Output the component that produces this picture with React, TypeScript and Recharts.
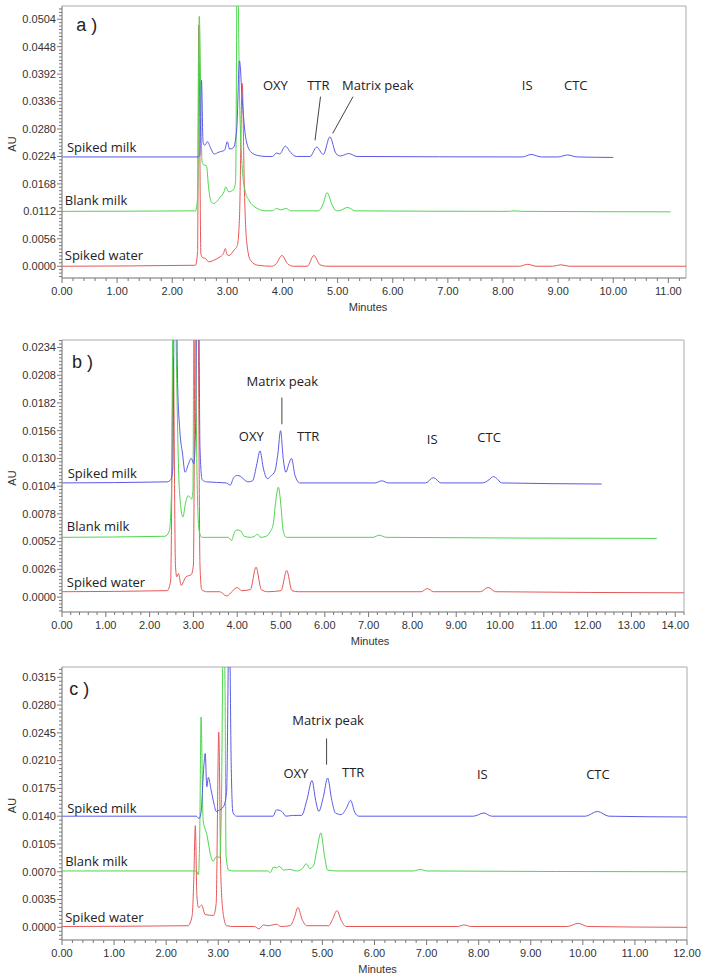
import { LineChart, Line, XAxis, YAxis, ReferenceArea, ReferenceLine, ReferenceDot } from "recharts";

type Pt = [number, number];
type Note = { text: string; t: number; v: number; anchor?: "start" | "middle"; big?: boolean };
type Leader = [number, number, number, number];

const BLUE = "#5a5ae8";
const GREEN = "#4ed64e";
const RED = "#e65858";
const TICK_FONT = "'Liberation Sans', Arial, sans-serif";
const NOTE_FONT = "'Open Sans', sans-serif";

// ---- panel a ----
const aYTicks = [0, 0.0056, 0.0112, 0.0168, 0.0224, 0.028, 0.0336, 0.0392, 0.0448, 0.0504];
const aXTicks = [0, 1, 2, 3, 4, 5, 6, 7, 8, 9, 10, 11];

const aSpikedMilk: Pt[] = [
  [0, 0.0223], [2.47, 0.0223], [2.5, 0.0226], [2.53, 0.038], [2.56, 0.0252], [2.59, 0.0247],
  [2.64, 0.0254], [2.7, 0.024], [2.76, 0.0229], [2.85, 0.0233], [2.95, 0.0237], [3.0, 0.0254],
  [3.04, 0.0239], [3.11, 0.0242], [3.17, 0.028], [3.22, 0.0419], [3.27, 0.0339], [3.33, 0.0264],
  [3.42, 0.0234], [3.55, 0.0226], [3.7, 0.0224], [3.82, 0.0224], [3.89, 0.0231], [3.95, 0.0229],
  [4.05, 0.0245], [4.15, 0.0232], [4.25, 0.0224], [4.5, 0.0224], [4.62, 0.0243], [4.74, 0.0228],
  [4.86, 0.0264], [4.97, 0.023], [5.05, 0.0225], [5.2, 0.023], [5.35, 0.0224], [8.35, 0.0223],
  [8.51, 0.0228], [8.7, 0.0223], [9.0, 0.0223], [9.17, 0.0227], [9.35, 0.0223], [10.0, 0.0222],
];
const aBlankMilk: Pt[] = [
  [0, 0.0112], [2.42, 0.0113], [2.46, 0.014], [2.49, 0.051], [2.54, 0.0215], [2.57, 0.0207],
  [2.62, 0.0205], [2.66, 0.016], [2.7, 0.0133], [2.75, 0.0128], [2.87, 0.0141], [2.94, 0.0152],
  [2.97, 0.0162], [3.02, 0.0152], [3.12, 0.0157], [3.15, 0.0175], [3.18, 0.065], [3.22, 0.035],
  [3.27, 0.02], [3.33, 0.015], [3.39, 0.0135], [3.54, 0.0118], [3.7, 0.0113], [3.82, 0.0113],
  [3.89, 0.0118], [3.97, 0.0115], [4.07, 0.0118], [4.15, 0.0113], [4.65, 0.0113], [4.73, 0.0125],
  [4.81, 0.015], [4.9, 0.0125], [4.98, 0.0113], [5.05, 0.0114], [5.18, 0.012], [5.32, 0.0113],
  [8.1, 0.0112], [8.2, 0.0113], [8.35, 0.0112], [11.04, 0.0111],
];
const aSpikedWater: Pt[] = [
  [0, 0], [2.42, 0.0002], [2.46, 0.003], [2.48, 0.0492], [2.52, 0.0025], [2.56, 0.0017],
  [2.6, 0.0016], [2.66, 0.0009], [2.75, 0.0012], [2.85, 0.0018], [2.93, 0.0026], [2.96, 0.0036],
  [3.0, 0.0023], [3.03, 0.0022], [3.12, 0.0033], [3.18, 0.0042], [3.22, 0.01], [3.27, 0.0373],
  [3.31, 0.015], [3.35, 0.005], [3.42, 0.0012], [3.55, 0.0002], [3.8, 0], [3.88, 0.0004],
  [3.99, 0.0022], [4.1, 0.0004], [4.2, 0], [4.45, 0], [4.57, 0.0022], [4.68, 0.0003], [4.8, 0],
  [8.3, 0], [8.45, 0.0004], [8.6, 0], [8.9, 0], [9.05, 0.0003], [9.2, 0], [11.32, 0],
];
const aNotes: Note[] = [
  { text: "a )", t: 0.45, v: 0.0492, anchor: "middle", big: true },
  { text: "Spiked milk", t: 0.09, v: 0.0243 },
  { text: "Blank milk", t: 0.05, v: 0.0135 },
  { text: "Spiked water", t: 0.05, v: 0.0021 },
  { text: "OXY", t: 3.87, v: 0.0369, anchor: "middle" },
  { text: "TTR", t: 4.65, v: 0.0369, anchor: "middle" },
  { text: "Matrix peak", t: 5.73, v: 0.0369, anchor: "middle" },
  { text: "IS", t: 8.44, v: 0.0369, anchor: "middle" },
  { text: "CTC", t: 9.32, v: 0.0369, anchor: "middle" },
];
const aLeaders: Leader[] = [
  [4.69, 0.0346, 4.59, 0.0257],
  [5.28, 0.0346, 4.91, 0.0271],
];

// ---- panel b ----
const bYTicks = [0, 0.0026, 0.0052, 0.0078, 0.0104, 0.013, 0.0156, 0.0182, 0.0208, 0.0234];
const bXTicks = [0, 1, 2, 3, 4, 5, 6, 7, 8, 9, 10, 11, 12, 13, 14];

const bSpikedMilk: Pt[] = [
  [0, 0.0107], [2.4, 0.0108], [2.48, 0.011], [2.53, 0.012], [2.58, 0.04], [2.64, 0.02],
  [2.69, 0.0156], [2.75, 0.0135], [2.81, 0.0117], [2.88, 0.0124], [2.95, 0.013], [3.01, 0.0125],
  [3.05, 0.016], [3.1, 0.045], [3.15, 0.014], [3.2, 0.011], [3.3, 0.0108], [3.75, 0.0107],
  [3.84, 0.0105], [3.92, 0.0112], [4.0, 0.0114], [4.08, 0.0113], [4.16, 0.011], [4.25, 0.0108],
  [4.35, 0.0109], [4.45, 0.0125], [4.52, 0.0137], [4.6, 0.012], [4.69, 0.0111], [4.78, 0.0114],
  [4.86, 0.0118], [4.93, 0.0135], [4.99, 0.0156], [5.05, 0.013], [5.11, 0.0117], [5.18, 0.0125],
  [5.24, 0.013], [5.32, 0.0114], [5.43, 0.0107], [7.15, 0.0107], [7.3, 0.0109], [7.45, 0.0107],
  [8.3, 0.0107], [8.48, 0.0112], [8.65, 0.0107], [9.6, 0.0107], [9.75, 0.011], [9.85, 0.0113],
  [10.05, 0.0107], [12.32, 0.0106],
];
const bBlankMilk: Pt[] = [
  [0, 0.0056], [2.35, 0.0057], [2.45, 0.0062], [2.5, 0.01], [2.55, 0.04], [2.62, 0.02],
  [2.68, 0.01], [2.76, 0.0075], [2.82, 0.0088], [2.88, 0.0095], [2.96, 0.0092], [2.99, 0.01],
  [3.02, 0.04], [3.08, 0.012], [3.13, 0.0062], [3.2, 0.0056], [3.8, 0.0056], [3.87, 0.0053],
  [3.93, 0.006], [3.99, 0.0063], [4.08, 0.0062], [4.16, 0.0057], [4.3, 0.0056], [4.4, 0.0057],
  [4.46, 0.0059], [4.54, 0.0056], [4.66, 0.0057], [4.75, 0.0061], [4.82, 0.0068], [4.88, 0.009],
  [4.94, 0.0103], [5.0, 0.0085], [5.05, 0.0062], [5.12, 0.0056], [7.1, 0.0056], [7.24, 0.0058],
  [7.4, 0.0056], [13.58, 0.0055],
];
const bSpikedWater: Pt[] = [
  [0, 0.0005], [2.4, 0.0006], [2.48, 0.0015], [2.54, 0.0225], [2.59, 0.003], [2.62, 0.0019],
  [2.66, 0.0022], [2.72, 0.0011], [2.83, 0.0019], [2.95, 0.0021], [3.0, 0.003], [3.04, 0.03],
  [3.08, 0.045], [3.12, 0.02], [3.15, 0.003], [3.19, 0.0007], [3.3, 0.0005], [3.6, 0.0005],
  [3.76, 0.0001], [3.9, 0.0006], [4.0, 0.0009], [4.1, 0.0006], [4.3, 0.0007], [4.43, 0.0028],
  [4.55, 0.0007], [4.7, 0.0005], [5.0, 0.0006], [5.13, 0.0025], [5.25, 0.0006], [5.4, 0.0005],
  [8.2, 0.0005], [8.34, 0.0008], [8.48, 0.0005], [9.55, 0.0005], [9.73, 0.0009], [9.9, 0.0005],
  [14.2, 0.0004],
];
const bNotes: Note[] = [
  { text: "b )", t: 0.47, v: 0.0221, anchor: "middle", big: true },
  { text: "Spiked milk", t: 0.13, v: 0.0116 },
  { text: "Blank milk", t: 0.11, v: 0.0066 },
  { text: "Spiked water", t: 0.11, v: 0.0014 },
  { text: "Matrix peak", t: 5.03, v: 0.0202, anchor: "middle" },
  { text: "OXY", t: 4.32, v: 0.0151, anchor: "middle" },
  { text: "TTR", t: 5.62, v: 0.0151, anchor: "middle" },
  { text: "IS", t: 8.45, v: 0.0148, anchor: "middle" },
  { text: "CTC", t: 9.75, v: 0.015, anchor: "middle" },
];
const bLeaders: Leader[] = [[5.02, 0.0187, 5.02, 0.0162]];

// ---- panel c ----
const cYTicks = [0, 0.0035, 0.007, 0.0105, 0.014, 0.0175, 0.021, 0.0245, 0.028, 0.0315];
const cXTicks = [0, 1, 2, 3, 4, 5, 6, 7, 8, 9, 10, 11, 12];

const cSpikedMilk: Pt[] = [
  [0, 0.014], [2.58, 0.014], [2.63, 0.0137], [2.67, 0.0145], [2.72, 0.02], [2.75, 0.0219],
  [2.78, 0.0177], [2.81, 0.0189], [2.86, 0.0174], [2.92, 0.0155], [2.96, 0.0146], [3.0, 0.0147],
  [3.1, 0.0152], [3.16, 0.017], [3.21, 0.04], [3.25, 0.02], [3.28, 0.0145], [3.35, 0.014],
  [4.05, 0.014], [4.12, 0.0148], [4.22, 0.0146], [4.3, 0.014], [4.43, 0.0141], [4.6, 0.0141],
  [4.7, 0.016], [4.8, 0.0185], [4.87, 0.016], [4.93, 0.0146], [5.02, 0.0165], [5.1, 0.0188],
  [5.18, 0.016], [5.25, 0.0144], [5.36, 0.0142], [5.46, 0.015], [5.54, 0.016], [5.62, 0.0145],
  [5.7, 0.014], [7.9, 0.014], [8.1, 0.0144], [8.25, 0.014], [10.05, 0.014], [10.28, 0.0146],
  [10.5, 0.014], [12, 0.0139],
];
const cBlankMilk: Pt[] = [
  [0, 0.0071], [2.58, 0.0071], [2.62, 0.0066], [2.645, 0.012], [2.67, 0.0265], [2.71, 0.0135],
  [2.78, 0.0117], [2.86, 0.0089], [2.9, 0.0083], [2.96, 0.0089], [3.03, 0.0088], [3.06, 0.015],
  [3.1, 0.04], [3.13, 0.03], [3.15, 0.009], [3.2, 0.0072], [3.3, 0.0071], [3.95, 0.0071],
  [4.0, 0.0069], [4.06, 0.0076], [4.12, 0.0075], [4.17, 0.0077], [4.25, 0.0072], [4.37, 0.0073],
  [4.5, 0.0071], [4.6, 0.0073], [4.69, 0.008], [4.76, 0.0074], [4.83, 0.0078], [4.9, 0.01],
  [4.97, 0.0119], [5.04, 0.009], [5.1, 0.0072], [5.3, 0.0071], [6.75, 0.0071], [6.88, 0.0073],
  [7.0, 0.0071], [12, 0.007],
];
const cSpikedWater: Pt[] = [
  [0, 0.0001], [2.42, 0.0002], [2.5, 0.0015], [2.53, 0.006], [2.56, 0.0128], [2.59, 0.004],
  [2.62, 0.0025], [2.65, 0.0026], [2.68, 0.0028], [2.75, 0.0016], [2.91, 0.0015], [2.96, 0.003],
  [3.01, 0.0246], [3.05, 0.0064], [3.1, 0.0015], [3.16, 0.0002], [3.3, 0.0001], [3.7, 0.0001],
  [3.78, -0.0002], [3.87, 0.0003], [3.95, 0.0002], [4.05, 0.0003], [4.12, 0.0004], [4.2, 0.0001],
  [4.38, 0.0002], [4.46, 0.0012], [4.53, 0.0025], [4.61, 0.001], [4.7, 0.0002], [5.12, 0.0002],
  [5.2, 0.0011], [5.28, 0.0021], [5.36, 0.0009], [5.45, 0.0001], [7.6, 0.0001], [7.72, 0.0003],
  [7.85, 0.0001], [9.7, 0.0001], [9.91, 0.0005], [10.1, 0.0001], [12, 0],
];
const cNotes: Note[] = [
  { text: "c )", t: 0.33, v: 0.0301, anchor: "middle", big: true },
  { text: "Spiked milk", t: 0.1, v: 0.015 },
  { text: "Blank milk", t: 0.06, v: 0.0083 },
  { text: "Spiked water", t: 0.06, v: 0.0013 },
  { text: "Matrix peak", t: 5.11, v: 0.0261, anchor: "middle" },
  { text: "OXY", t: 4.49, v: 0.0194, anchor: "middle" },
  { text: "TTR", t: 5.59, v: 0.0195, anchor: "middle" },
  { text: "IS", t: 8.07, v: 0.0193, anchor: "middle" },
  { text: "CTC", t: 10.29, v: 0.0193, anchor: "middle" },
];
const cLeaders: Leader[] = [[5.08, 0.0238, 5.08, 0.0205]];

const toRows = (pts: Pt[]) => pts.map(([t, v]) => ({ t, v }));

interface PanelProps {
  top: number;
  height: number;
  marginTop: number;
  marginRight: number;
  xMax: number;
  yDomain: [number, number];
  yTicks: number[];
  yDiv: number;
  xTicks: number[];
  milk: Pt[];
  blank: Pt[];
  water: Pt[];
  notes: Note[];
  leaders: Leader[];
  minutesDx: number;
}

function Chromatogram(p: PanelProps) {
  const yStep = p.yTicks[1] - p.yTicks[0];
  const yMinor = yStep / p.yDiv;
  const yAll: number[] = [];
  for (let i = Math.ceil(p.yDomain[0] / yMinor - 1e-9); i * yMinor <= p.yDomain[1] + 1e-9; i++) {
    yAll.push(+(i * yMinor).toFixed(7));
  }
  const xAll: number[] = [];
  for (let i = 0; i * 0.2 <= p.xMax + 1e-9; i++) xAll.push(+(i * 0.2).toFixed(2));

  const yTick = (t: any) => {
    const v = t.payload.value;
    const major = Math.abs(v / yStep - Math.round(v / yStep)) < 1e-4;
    return (
      <g>
        <line x1={t.x - (major ? 5 : 3)} x2={t.x} y1={t.y} y2={t.y} stroke="#777" />
        {major && (
          <text x={t.x - 6} y={t.y} dy="0.35em" textAnchor="end" fontSize={11} fill="#333" fontFamily={TICK_FONT}>
            {v.toFixed(4)}
          </text>
        )}
      </g>
    );
  };
  const xTick = (t: any) => {
    const v = t.payload.value;
    const major = Math.abs(v - Math.round(v)) < 1e-6;
    return (
      <g>
        <line x1={t.x} x2={t.x} y1={t.y} y2={t.y + (major ? 5 : 3)} stroke="#777" />
        {major && (
          <text x={t.x} y={t.y + 13} dy="0.35em" textAnchor="middle" fontSize={11} fill="#333" fontFamily={TICK_FONT}>
            {v.toFixed(2)}
          </text>
        )}
      </g>
    );
  };

  const series = [
    { data: p.water, color: RED },
    { data: p.blank, color: GREEN },
    { data: p.milk, color: BLUE },
  ];

  return (
    <div style={{ position: "absolute", left: 0, top: p.top }}>
      <LineChart width={708} height={p.height} margin={{ top: p.marginTop, right: p.marginRight, bottom: 0, left: 0 }}>
        <XAxis
          type="number"
          dataKey="t"
          domain={[0, p.xMax]}
          allowDataOverflow
          ticks={xAll}
          interval={0}
          height={40}
          tickSize={0}
          tickMargin={0}
          tick={xTick}
          axisLine={{ stroke: "#999" }}
          label={{
            content: ({ viewBox }: any) => (
              <text
                x={viewBox.x + viewBox.width / 2 + p.minutesDx}
                y={viewBox.y + 29}
                dy="0.35em"
                textAnchor="middle"
                fontSize={11}
                fill="#333"
                fontFamily={TICK_FONT}
              >
                Minutes
              </text>
            ),
          }}
        />
        <YAxis
          type="number"
          domain={p.yDomain}
          allowDataOverflow
          ticks={yAll}
          interval={0}
          width={62}
          tickSize={0}
          tickMargin={0}
          tick={yTick}
          axisLine={{ stroke: "#999" }}
          label={{
            content: ({ viewBox }: any) => {
              const x = viewBox.x + 12;
              const y = viewBox.y + viewBox.height / 2 + 2;
              return (
                <text x={x} y={y} dy="0.35em" textAnchor="middle" transform={`rotate(-90, ${x}, ${y})`} fontSize={11} fill="#333" fontFamily={TICK_FONT}>
                  AU
                </text>
              );
            },
          }}
        />
        <ReferenceArea x1={0} x2={p.xMax} y1={p.yDomain[0]} y2={p.yDomain[1]} fill="none" stroke="#aaa" ifOverflow="visible" />
        {series.map((s, i) => (
          <Line
            key={i}
            data={toRows(s.data)}
            dataKey="v"
            type="monotone"
            stroke={s.color}
            strokeWidth={1}
            dot={false}
            activeDot={false}
            isAnimationActive={false}
          />
        ))}
        {p.leaders.map((l, i) => (
          <ReferenceLine
            key={"l" + i}
            segment={[{ x: l[0], y: l[1] }, { x: l[2], y: l[3] }]}
            stroke="#444"
            strokeWidth={1}
            ifOverflow="visible"
          />
        ))}
        {p.notes.map((n) => (
          <ReferenceDot
            key={n.text}
            x={n.t}
            y={n.v}
            r={1}
            ifOverflow="visible"
            shape={(d: any) => (
              <text
                x={d.cx}
                y={d.cy}
                dy="0.35em"
                textAnchor={n.anchor ?? "start"}
                fontSize={n.big ? 18 : 13}
                fill="#222"
                fontFamily={n.big ? TICK_FONT : NOTE_FONT}
              >
                {n.text}
              </text>
            )}
          />
        ))}
      </LineChart>
    </div>
  );
}

export default function App() {
  return (
    <div style={{ position: "absolute", left: 0, top: 0, width: 708, height: 980, background: "#fff" }}>
      <Chromatogram
        top={0}
        height={318}
        marginTop={6}
        marginRight={22}
        xMax={11.32}
        yDomain={[-0.0024, 0.0531]}
        yTicks={aYTicks}
        yDiv={8}
        xTicks={aXTicks}
        milk={aSpikedMilk}
        blank={aBlankMilk}
        water={aSpikedWater}
        notes={aNotes}
        leaders={aLeaders}
        minutesDx={-6}
      />
      <Chromatogram
        top={320}
        height={332}
        marginTop={20}
        marginRight={24}
        xMax={14.2}
        yDomain={[-0.0014, 0.0241]}
        yTicks={bYTicks}
        yDiv={8}
        xTicks={bXTicks}
        milk={bSpikedMilk}
        blank={bBlankMilk}
        water={bSpikedWater}
        notes={bNotes}
        leaders={bLeaders}
        minutesDx={-3}
      />
      <Chromatogram
        top={640}
        height={340}
        marginTop={27}
        marginRight={21}
        xMax={12}
        yDomain={[-0.0016, 0.0328]}
        yTicks={cYTicks}
        yDiv={7}
        xTicks={cXTicks}
        milk={cSpikedMilk}
        blank={cBlankMilk}
        water={cSpikedWater}
        notes={cNotes}
        leaders={cLeaders}
        minutesDx={3}
      />
    </div>
  );
}
